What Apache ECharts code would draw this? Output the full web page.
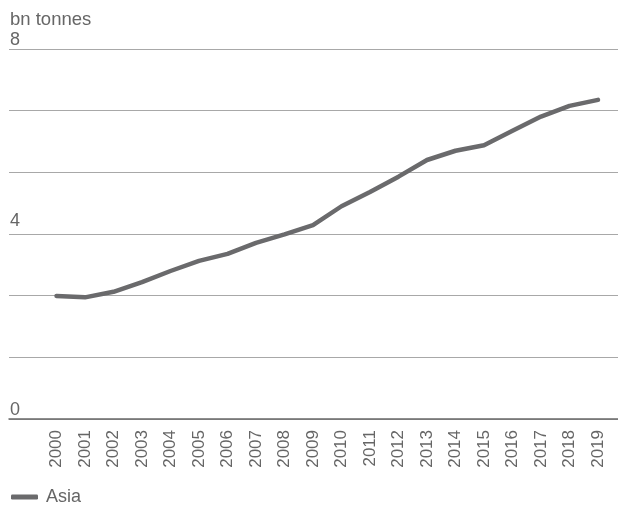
<!DOCTYPE html>
<html>
<head>
<meta charset="utf-8">
<script src="https://cdn.jsdelivr.net/npm/echarts@6/dist/echarts.min.js"></script>
<style>html,body{margin:0;padding:0;background:#fff}#c{width:618px;height:509px}</style>
</head>
<body>
<div id="c"></div>
<script>
var years = ['2000','2001','2002','2003','2004','2005','2006','2007','2008','2009','2010','2011','2012','2013','2014','2015','2016','2017','2018','2019'];
var asia = [2.66,2.63,2.75,2.96,3.20,3.42,3.57,3.81,3.99,4.19,4.60,4.91,5.24,5.60,5.80,5.92,6.23,6.54,6.77,6.90];
var yMin = 0, yMax = 8, yStep = 8/6;
var yLabels = [0, 4, 8];
var unitLabel = 'bn tonnes';
var seriesName = 'Asia';

var FONT = '"Liberation Sans", Arial, Helvetica, sans-serif';
var TXT = '#666666';
var chart = echarts.init(document.getElementById('c'), null, {renderer: 'canvas'});
chart.setOption({
  animation: false,
  backgroundColor: '#ffffff',
  textStyle: {fontFamily: FONT},
  title: {text: unitLabel, left: 10, top: 10, padding: 0,
    textStyle: {fontSize: 18.5, fontWeight: 'normal', color: TXT, fontFamily: FONT}},
  legend: {left: 11, top: 488, padding: 0, icon: 'roundRect', itemWidth: 27, itemHeight: 5,
    data: [seriesName],
    textStyle: {fontSize: 18, color: TXT, fontFamily: FONT, padding: [0, 0, 0, 3]}},
  grid: [
    {left: 9, right: 0, top: 49, bottom: 90, containLabel: false},
    {left: 42.25, right: 5.75, top: 49, bottom: 90, containLabel: false}
  ],
  xAxis: [
    {gridIndex: 0, type: 'value', min: 0, max: 1, show: true,
      axisLine: {show: true, lineStyle: {color: '#6a6a6a', width: 1.5}},
      axisTick: {show: false}, axisLabel: {show: false}, splitLine: {show: false}},
    {gridIndex: 1, type: 'category', data: years, boundaryGap: true,
      axisLine: {show: false}, axisTick: {show: false}, splitLine: {show: false},
      axisLabel: {rotate: 90, margin: 11, fontSize: 17, color: TXT, fontFamily: FONT, interval: 0}}
  ],
  yAxis: [
    {gridIndex: 0, type: 'value', min: yMin, max: yMax, interval: yStep,
      axisLine: {show: false}, axisTick: {show: false},
      splitLine: {show: true, lineStyle: {color: '#a8a8a8', width: 1.2}},
      axisLabel: {inside: true, margin: 1, verticalAlign: 'bottom', align: 'left',
        fontSize: 18, color: TXT, fontFamily: FONT,
        rich: {
          n: {fontSize: 18, color: TXT, fontFamily: FONT, padding: [0, 0, 0, 0]},
          m: {fontSize: 18, color: TXT, fontFamily: FONT, padding: [0, 0, 4, 0]}
        },
        formatter: function (v) {
          for (var i = 0; i < yLabels.length; i++) {
            if (Math.abs(v - yLabels[i]) < 1e-6) {
              var s = String(yLabels[i]);
              return (i === 1 ? '{m|' : '{n|') + s + '}';
            }
          }
          return '';
        }}},
    {gridIndex: 1, type: 'value', min: yMin, max: yMax, show: false, splitLine: {show: false}}
  ],
  series: [{
    name: seriesName, type: 'line', xAxisIndex: 1, yAxisIndex: 1, data: asia,
    showSymbol: false, symbol: 'none', smooth: false,
    lineStyle: {color: '#6a6a6c', width: 4.5, cap: 'round', join: 'round'},
    itemStyle: {color: '#6a6a6c'}
  }]
});
</script>
</body>
</html>
